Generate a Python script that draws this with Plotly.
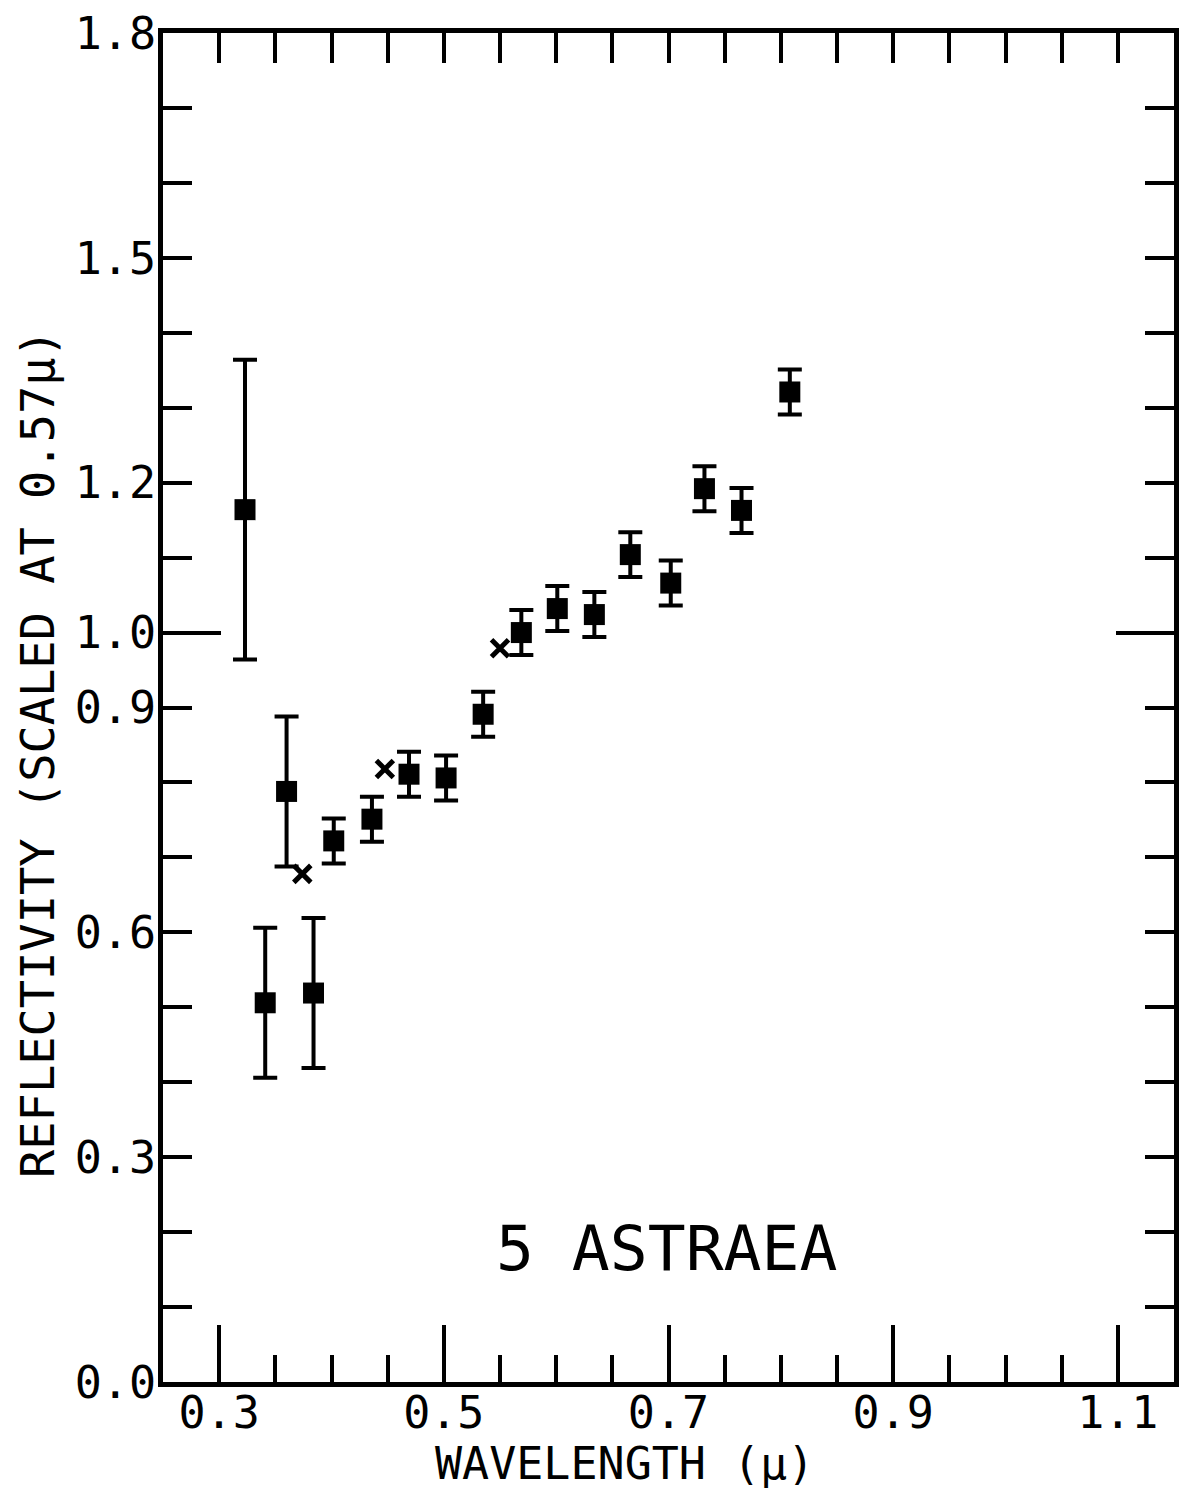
import plotly.graph_objects as go

# Filter photometry of 5 Astraea, normalised to 1.0 at 0.57 micron
wavelength = [0.323, 0.341, 0.360, 0.384, 0.402, 0.436, 0.469, 0.502, 0.535,
              0.569, 0.601, 0.634, 0.666, 0.702, 0.732, 0.765, 0.808]
reflectivity = [1.164, 0.506, 0.788, 0.519, 0.722, 0.751, 0.811, 0.806, 0.891,
                1.000, 1.032, 1.024, 1.104, 1.066, 1.192, 1.163, 1.321]
uncertainty = [0.20, 0.10, 0.10, 0.10, 0.03, 0.03, 0.03, 0.03, 0.03,
               0.03, 0.03, 0.03, 0.03, 0.03, 0.03, 0.03, 0.03]

# Supplementary points drawn as crosses
cross_wavelength = [0.374, 0.4475, 0.550]
cross_reflectivity = [0.678, 0.818, 0.979]

# Axis ticks
x_range = [0.25, 1.15]
x_major = [0.3, 0.5, 0.7, 0.9, 1.1]
x_major_text = ["0.3", "0.5", "0.7", "0.9", "1.1"]
x_minor = [0.30, 0.35, 0.40, 0.45, 0.50, 0.55, 0.60, 0.65, 0.70, 0.75,
           0.80, 0.85, 0.90, 0.95, 1.00, 1.05, 1.10]

y_range = [0.0, 1.8]
y_ticks = [0.0, 0.1, 0.2, 0.3, 0.4, 0.5, 0.6, 0.7, 0.8, 0.9,
           1.0, 1.1, 1.2, 1.3, 1.4, 1.5, 1.6, 1.7, 1.8]
y_tick_text = ["0.0", "", "", "0.3", "", "", "0.6", "", "", "0.9",
               "1.0", "", "1.2", "", "", "1.5", "", "", "1.8"]
y_long_tick = [1.0]

FONT = "DejaVu Sans Mono"
INK = "black"
TICK_W = 4

fig = go.Figure()

fig.add_trace(go.Scatter(
    x=wavelength, y=reflectivity, mode="markers",
    marker=dict(symbol="square", size=21, color=INK),
    error_y=dict(type="data", array=uncertainty, visible=True,
                 color=INK, thickness=4, width=12),
    showlegend=False, hoverinfo="skip",
))

fig.add_trace(go.Scatter(
    x=cross_wavelength, y=cross_reflectivity, mode="markers",
    marker=dict(symbol="x-thin", size=17, color=INK,
                line=dict(color=INK, width=5)),
    showlegend=False, hoverinfo="skip",
))

# empty traces that attach the extra tick-only axes
fig.add_trace(go.Scatter(x=[], y=[], xaxis="x2", yaxis="y2",
                         showlegend=False, hoverinfo="skip"))
fig.add_trace(go.Scatter(x=[], y=[], xaxis="x", yaxis="y3",
                         showlegend=False, hoverinfo="skip"))
fig.add_trace(go.Scatter(x=[], y=[], xaxis="x", yaxis="y4",
                         showlegend=False, hoverinfo="skip"))

tick_font = dict(family=FONT, size=45, color=INK)

fig.update_layout(
    width=1186, height=1494,
    margin=dict(l=163, r=7, t=30, b=112, pad=0),
    paper_bgcolor="white", plot_bgcolor="white",
    font=dict(family=FONT, color=INK),
    xaxis=dict(
        range=x_range, showgrid=False, zeroline=False,
        showline=True, linewidth=5, linecolor=INK, mirror=True,
        tickmode="array", tickvals=x_major, ticktext=x_major_text,
        ticks="inside", ticklen=57, tickwidth=TICK_W, tickcolor=INK,
        tickfont=tick_font, ticklabelstandoff=-13,
        minor=dict(tickmode="array", tickvals=x_minor, ticks="inside",
                   ticklen=27, tickwidth=TICK_W, tickcolor=INK, showgrid=False),
    ),
    xaxis2=dict(
        range=x_range, overlaying="x", side="top", anchor="y",
        showgrid=False, zeroline=False, showline=False,
        tickmode="array", tickvals=x_minor, showticklabels=False,
        ticks="inside", ticklen=30, tickwidth=TICK_W, tickcolor=INK,
    ),
    yaxis=dict(
        range=y_range, showgrid=False, zeroline=False,
        showline=True, linewidth=5, linecolor=INK, mirror=True,
        tickmode="array", tickvals=y_ticks, ticktext=y_tick_text,
        ticks="inside", ticklen=29, tickwidth=TICK_W, tickcolor=INK,
        tickfont=tick_font, ticklabelstandoff=-7,
    ),
    yaxis2=dict(
        range=y_range, overlaying="y", side="right", anchor="x",
        showgrid=False, zeroline=False, showline=False,
        tickmode="array", tickvals=y_ticks, showticklabels=False,
        ticks="inside", ticklen=29, tickwidth=TICK_W, tickcolor=INK,
    ),
    yaxis3=dict(
        range=y_range, overlaying="y", side="left", anchor="x",
        showgrid=False, zeroline=False, showline=False,
        tickmode="array", tickvals=y_long_tick, showticklabels=False,
        ticks="inside", ticklen=58, tickwidth=TICK_W, tickcolor=INK,
    ),
    yaxis4=dict(
        range=y_range, overlaying="y", side="right", anchor="x",
        showgrid=False, zeroline=False, showline=False,
        tickmode="array", tickvals=y_long_tick, showticklabels=False,
        ticks="inside", ticklen=58, tickwidth=TICK_W, tickcolor=INK,
    ),
    annotations=[
        dict(text="REFLECTIVITY (SCALED AT 0.57μ)", textangle=-90,
             xref="paper", yref="paper", x=-0.124, y=0.466,
             xanchor="center", yanchor="middle", showarrow=False,
             font=dict(family=FONT, size=47, color=INK)),
        dict(text="WAVELENGTH (μ)",
             xref="paper", yref="paper", x=0.456, y=-0.0605,
             xanchor="center", yanchor="middle", showarrow=False,
             font=dict(family=FONT, size=45, color=INK)),
        dict(text="5 ASTRAEA",
             xref="x", yref="y", x=0.698, y=0.178,
             xanchor="center", yanchor="middle", showarrow=False,
             font=dict(family=FONT, size=63, color=INK)),
    ],
)

fig.write_html("out.html")
